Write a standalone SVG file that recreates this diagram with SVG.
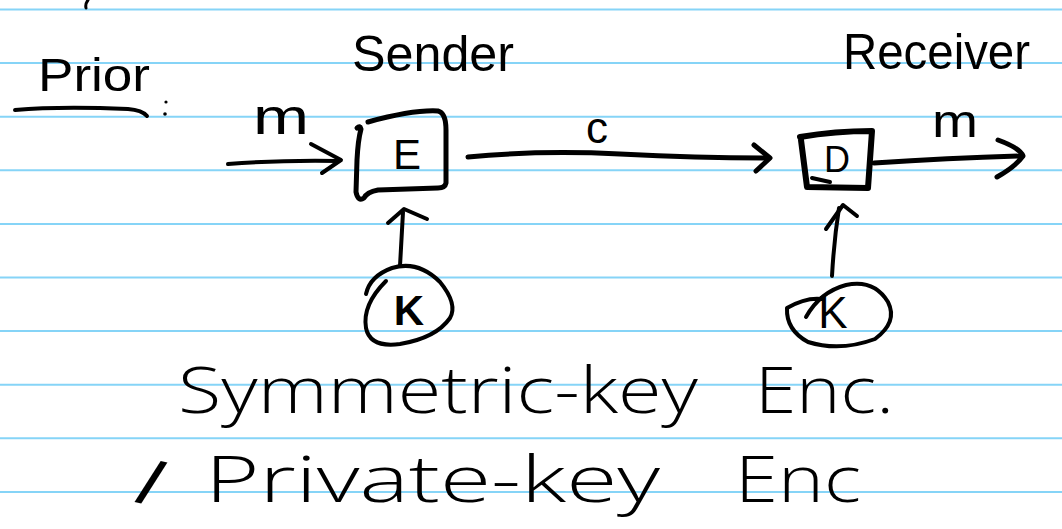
<svg xmlns="http://www.w3.org/2000/svg" width="1062" height="529" viewBox="0 0 1062 529">
  <style>
    .rule { stroke: #86d4f7; stroke-width: 2; }
    .ink { fill: none; stroke: #000; stroke-linecap: round; stroke-linejoin: round; }
    .hand { font-family: "Open Sans", "Liberation Sans", "DejaVu Sans", sans-serif; font-weight: 300; fill: #000; }
    .mark { font-family: "Liberation Sans", "DejaVu Sans", sans-serif; fill: #000; }
  </style>
  <rect width="1062" height="529" fill="#fff"/>

  <!-- ruled paper -->
  <g id="paper">
    <line class="rule" x1="0" y1="9.5" x2="1062" y2="9.5"/>
    <line class="rule" x1="0" y1="63.1" x2="1062" y2="63.1"/>
    <line class="rule" x1="0" y1="116.7" x2="1062" y2="116.7"/>
    <line class="rule" x1="0" y1="170.3" x2="1062" y2="170.3"/>
    <line class="rule" x1="0" y1="223.9" x2="1062" y2="223.9"/>
    <line class="rule" x1="0" y1="277.5" x2="1062" y2="277.5"/>
    <line class="rule" x1="0" y1="331.1" x2="1062" y2="331.1"/>
    <line class="rule" x1="0" y1="384.7" x2="1062" y2="384.7"/>
    <line class="rule" x1="0" y1="438.3" x2="1062" y2="438.3"/>
    <line class="rule" x1="0" y1="491.9" x2="1062" y2="491.9"/>
  </g>

  <!-- stray stroke at the top edge -->
  <path class="ink" stroke-width="3" d="M88,0 Q85,4 86,8"/>

  <!-- heading -->
  <g id="heading">
    <text class="mark" x="38" y="91" font-size="46" textLength="112" lengthAdjust="spacingAndGlyphs">Prior</text>
    <path class="ink" stroke-width="4" d="M15,110 Q60,106 128,109 Q142,110 147,116"/>
    <circle cx="166" cy="102" r="1.6" fill="#000"/>
    <circle cx="165" cy="114" r="1.8" fill="#000"/>
  </g>

  <text class="mark" x="352" y="71" font-size="50" textLength="162" lengthAdjust="spacingAndGlyphs">Sender</text>
  <text class="mark" x="843" y="69" font-size="50" textLength="187" lengthAdjust="spacingAndGlyphs">Receiver</text>

  <!-- connectors -->
  <g id="connectors">
    <path class="ink" stroke-width="4" d="M228,164 Q280,160 338,161"/>
    <path class="ink" stroke-width="4" d="M311,144 L341,160 L322,173"/>
    <text class="mark" x="253" y="134" font-size="50" textLength="56" lengthAdjust="spacingAndGlyphs">m</text>

    <path class="ink" stroke-width="5" d="M468,157 Q540,150 620,154 Q700,158 768,158"/>
    <path class="ink" stroke-width="5" d="M754,145 L770,158 L756,171"/>
    <text class="mark" x="597" y="143" font-size="44" text-anchor="middle">c</text>

    <path class="ink" stroke-width="5" d="M874,163 Q950,158 1021,156"/>
    <path class="ink" stroke-width="5" d="M998,140 Q1020,148 1023,156 Q1015,167 997,177"/>
    <text class="mark" x="932" y="137" font-size="46" textLength="46" lengthAdjust="spacingAndGlyphs">m</text>

    <path class="ink" stroke-width="4" d="M400,266 L403,212"/>
    <path class="ink" stroke-width="4" d="M388,223 L404,209 L427,219"/>

    <path class="ink" stroke-width="4" d="M832,276 Q834,240 839,208"/>
    <path class="ink" stroke-width="4" d="M826,229 L843,205 L857,216"/>
  </g>

  <!-- encryption box -->
  <g id="node-E">
    <path class="ink" stroke-width="5" d="M368,122 C390,116 420,110 438,111 Q446,113 446,130 L446,183 Q445,188 438,188 L378,190 Q367,192 364,198 Q358,202 356,192 L357,160 Q358,140 361,129 Q360,125 357,128"/>
    <text class="mark" x="407" y="169" font-size="42" text-anchor="middle">E</text>
  </g>

  <!-- decryption box -->
  <g id="node-D">
    <path class="ink" stroke-width="6" d="M800,137 Q835,131 872,131 L868,188 L807,187 L801,140"/>
    <path class="ink" stroke-width="4" d="M812,178 L830,182"/>
    <text class="mark" x="837" y="172" font-size="36" text-anchor="middle">D</text>
  </g>

  <!-- sender key -->
  <g id="node-K-sender">
    <path class="ink" stroke-width="4" d="M366,294 Q370,276 392,268 Q418,260 440,282 Q458,304 450,318 Q436,338 400,344 Q370,348 366,328 Q362,305 386,281"/>
    <text class="mark" x="409" y="325" font-size="42" font-weight="bold" text-anchor="middle">K</text>
  </g>

  <!-- receiver key -->
  <g id="node-K-receiver">
    <path class="ink" stroke-width="4" d="M822,299 Q806,297 787,308 Q786,330 808,342 Q840,352 875,339 Q898,322 888,302 Q874,279 846,285 Q820,292 806,317"/>
    <text class="mark" x="833" y="328" font-size="44" text-anchor="middle">K</text>
  </g>

  <!-- caption -->
  <g id="caption">
    <text class="hand" y="502" font-size="64"><tspan x="134" font-weight="600" rotate="12">/</tspan><tspan x="205" textLength="455" lengthAdjust="spacingAndGlyphs">Private-key</tspan><tspan x="735" textLength="126" lengthAdjust="spacingAndGlyphs">Enc</tspan></text>
    <text class="hand" y="413" font-size="64"><tspan x="178" textLength="520" lengthAdjust="spacingAndGlyphs">Symmetric-key</tspan><tspan x="755" textLength="139" lengthAdjust="spacingAndGlyphs">Enc.</tspan></text>
  </g>
</svg>
